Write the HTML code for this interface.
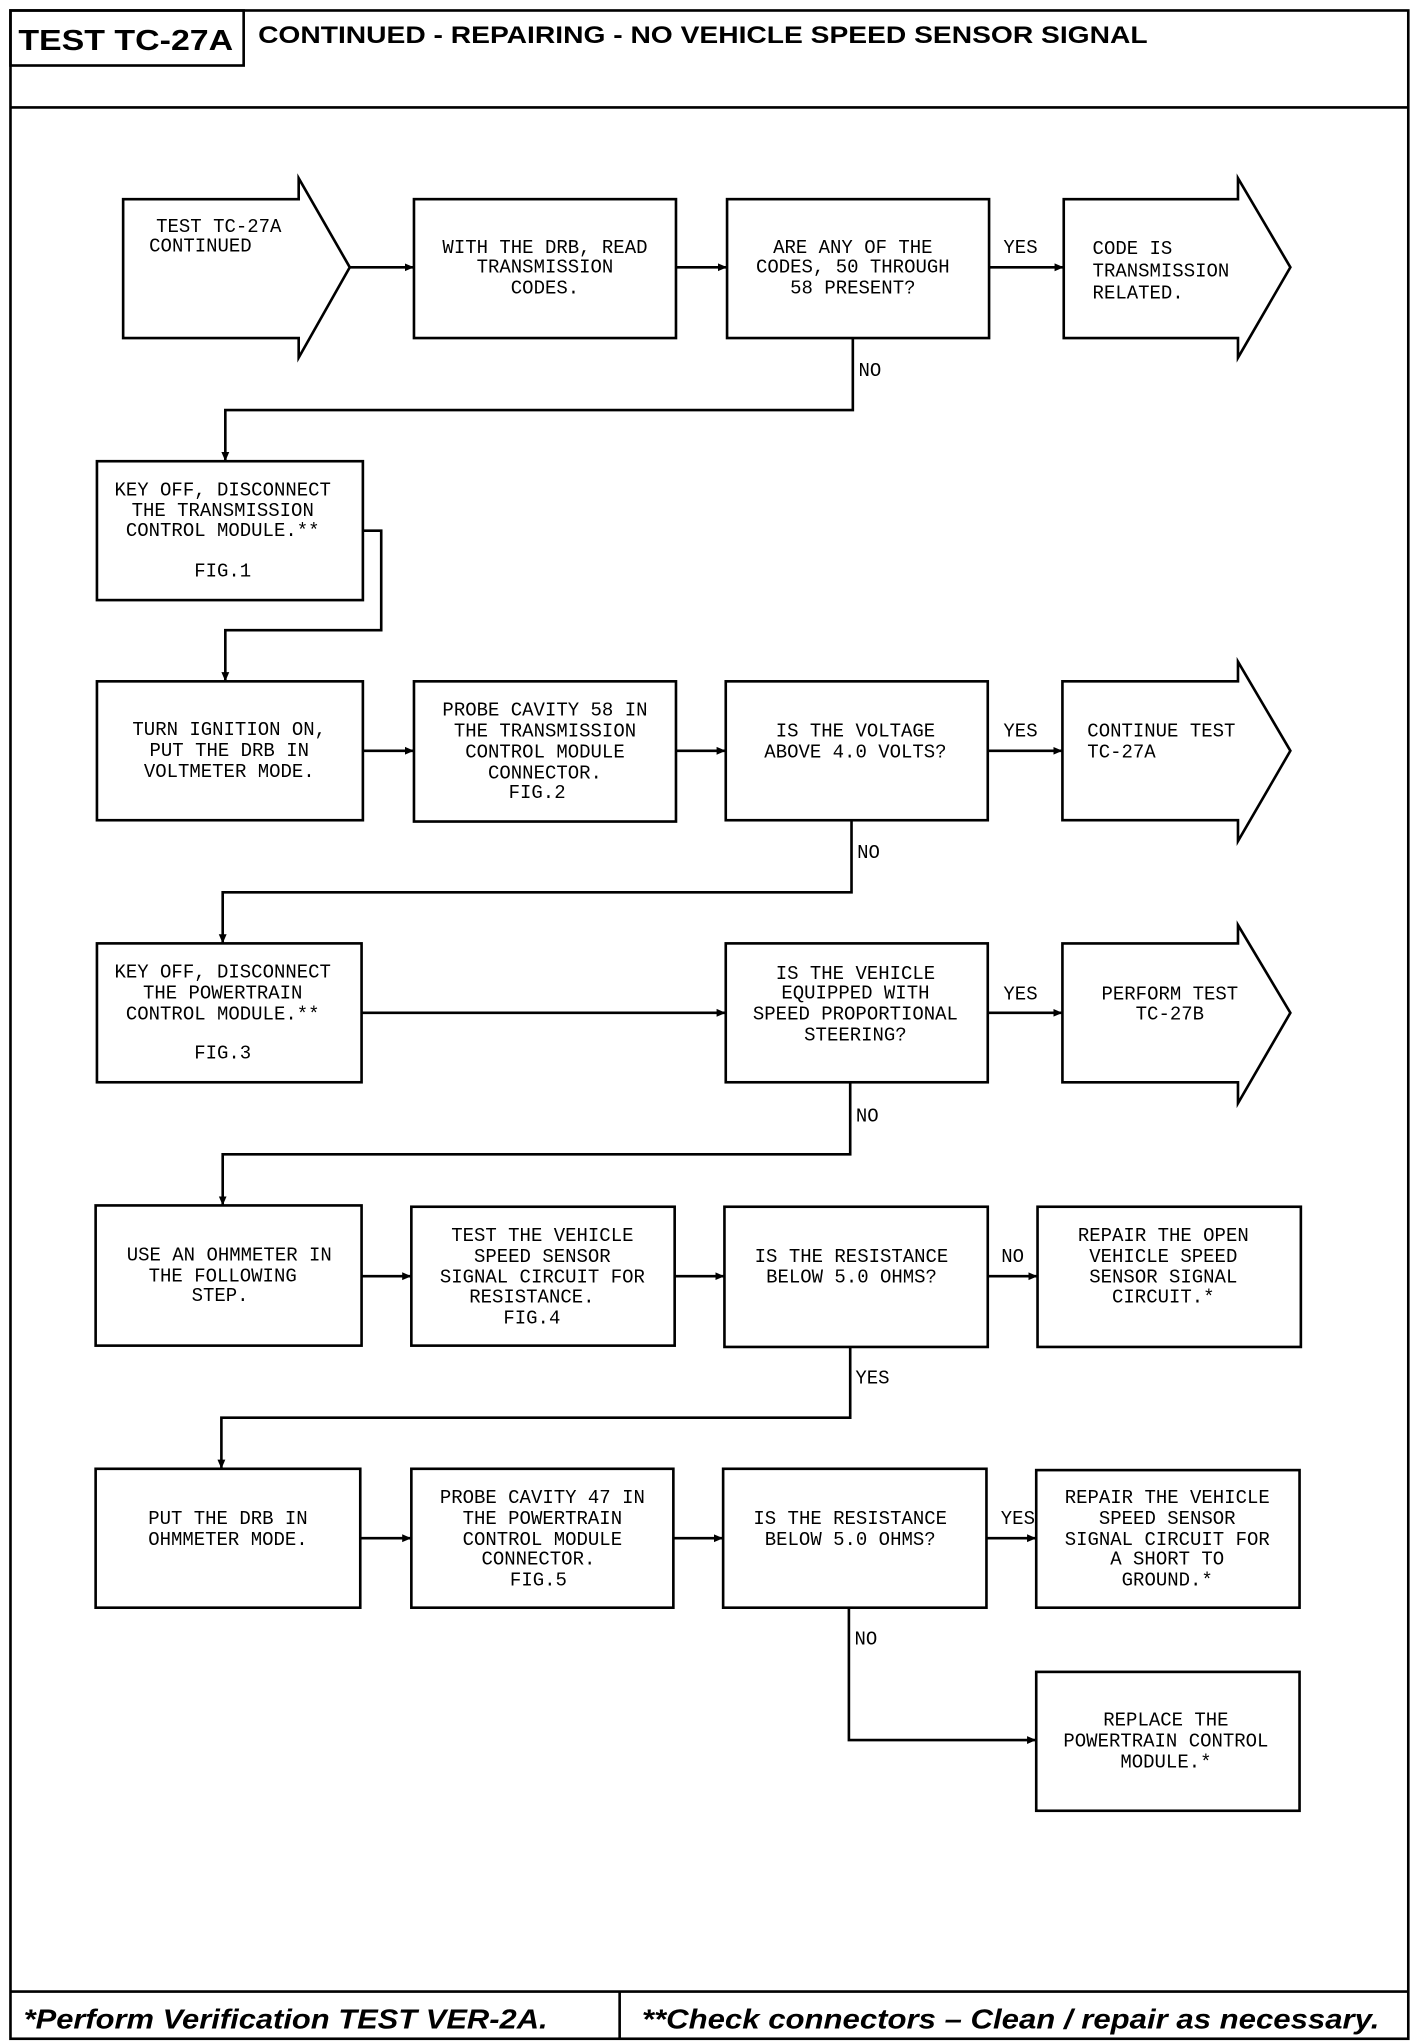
<!DOCTYPE html>
<html><head><meta charset="utf-8"><style>html,body{margin:0;padding:0;background:#fff}svg{display:block}</style></head><body>
<svg width="1424" height="2044" viewBox="0 0 1087 1560" preserveAspectRatio="none" xmlns="http://www.w3.org/2000/svg">
<defs><marker id="a" markerWidth="8" markerHeight="8" refX="7" refY="4" orient="auto" markerUnits="userSpaceOnUse"><path d="M0,1 L7,4 L0,7 z" fill="#000"/></marker></defs>
<g fill="none" stroke="#000" stroke-width="2">
<rect x="8" y="8" width="1067" height="1548"/>
<line x1="8" y1="82" x2="1075" y2="82"/>
<rect x="8" y="8" width="178" height="42"/>
<line x1="8" y1="1520" x2="1075" y2="1520"/>
<line x1="473" y1="1520" x2="473" y2="1556"/>
<!-- row1 -->
<path d="M94,152 H228 V136 L267,204 L228,273 V258 H94 Z"/>
<rect x="316" y="152" width="200" height="106"/>
<rect x="555" y="152" width="200" height="106"/>
<path d="M812,152 H945 V136 L985,204 L945,273 V258 H812 Z"/>
<!-- row2 -->
<rect x="74" y="352" width="203" height="106"/>
<!-- row3 -->
<rect x="74" y="520" width="203" height="106"/>
<rect x="316" y="520" width="200" height="107"/>
<rect x="554" y="520" width="200" height="106"/>
<path d="M811,520 H945 V505 L985,573 L945,642 V626 H811 Z"/>
<!-- row4 -->
<rect x="74" y="720" width="202" height="106"/>
<rect x="554" y="720" width="200" height="106"/>
<path d="M811,720 H945 V706 L985,773 L945,842 V826 H811 Z"/>
<!-- row5 -->
<rect x="73" y="920" width="203" height="107"/>
<rect x="314" y="921" width="201" height="106"/>
<rect x="553" y="921" width="201" height="107"/>
<rect x="792" y="921" width="201" height="107"/>
<!-- row6 -->
<rect x="73" y="1121" width="202" height="106"/>
<rect x="314" y="1121" width="200" height="106"/>
<rect x="552" y="1121" width="201" height="106"/>
<rect x="791" y="1122" width="201" height="105"/>
<rect x="791" y="1276" width="201" height="106"/>
</g>
<g fill="none" stroke="#000" stroke-width="2" marker-end="url(#a)">
<line x1="267" y1="204" x2="316" y2="204"/>
<line x1="516" y1="204" x2="555" y2="204"/>
<line x1="755" y1="204" x2="812" y2="204"/>
<path d="M651,258 V313 H172 V352"/>
<path d="M277,405 H291 V481 H172 V520"/>
<line x1="277" y1="573" x2="316" y2="573"/>
<line x1="516" y1="573" x2="554" y2="573"/>
<line x1="754" y1="573" x2="811" y2="573"/>
<path d="M650,626 V681 H170 V720"/>
<line x1="276" y1="773" x2="554" y2="773"/>
<line x1="754" y1="773" x2="811" y2="773"/>
<path d="M649,826 V881 H170 V920"/>
<line x1="276" y1="974" x2="314" y2="974"/>
<line x1="515" y1="974" x2="553" y2="974"/>
<line x1="754" y1="974" x2="792" y2="974"/>
<path d="M649,1028 V1082 H169 V1121"/>
<line x1="275" y1="1174" x2="314" y2="1174"/>
<line x1="514" y1="1174" x2="552" y2="1174"/>
<line x1="753" y1="1174" x2="791" y2="1174"/>
<path d="M648,1227 V1328 H791"/>
</g>
<g font-family="Liberation Sans, sans-serif" font-weight="bold" fill="#000">
<text x="14" y="38" font-size="22" textLength="164" lengthAdjust="spacingAndGlyphs">TEST TC-27A</text>
<text x="197" y="33" font-size="18" textLength="679" lengthAdjust="spacingAndGlyphs">CONTINUED - REPAIRING - NO VEHICLE SPEED SENSOR SIGNAL</text>
<text x="18" y="1548" font-size="21" font-style="italic" textLength="400" lengthAdjust="spacingAndGlyphs">*Perform Verification TEST VER-2A.</text>
<text x="490" y="1548" font-size="21" font-style="italic" textLength="563" lengthAdjust="spacingAndGlyphs">**Check connectors – Clean / repair as necessary.</text>
</g>
<g font-family="Liberation Mono, monospace" font-size="14.5" fill="#000" text-anchor="middle">
<text x="167" y="177">TEST TC-27A</text><text x="153" y="192">CONTINUED</text>
<text x="416" y="193">WITH THE DRB, READ</text><text x="416" y="208">TRANSMISSION</text><text x="416" y="224">CODES.</text>
<text x="651" y="193">ARE ANY OF THE</text><text x="651" y="208">CODES, 50 THROUGH</text><text x="651" y="224">58 PRESENT?</text>
<text x="779" y="193">YES</text><text x="664" y="287">NO</text>
<g text-anchor="start"><text x="834" y="194">CODE IS</text><text x="834" y="211">TRANSMISSION</text><text x="834" y="228">RELATED.</text></g>
<text x="170" y="378">KEY OFF, DISCONNECT</text><text x="170" y="394">THE TRANSMISSION</text><text x="170" y="409">CONTROL MODULE.**</text><text x="170" y="440">FIG.1</text>
<text x="175" y="561">TURN IGNITION ON,</text><text x="175" y="577">PUT THE DRB IN</text><text x="175" y="593">VOLTMETER MODE.</text>
<text x="416" y="546">PROBE CAVITY 58 IN</text><text x="416" y="562">THE TRANSMISSION</text><text x="416" y="578">CONTROL MODULE</text><text x="416" y="594">CONNECTOR.</text><text x="410" y="609">FIG.2</text>
<text x="653" y="562">IS THE VOLTAGE</text><text x="653" y="578">ABOVE 4.0 VOLTS?</text>
<text x="779" y="562">YES</text><text x="663" y="655">NO</text>
<g text-anchor="start"><text x="830" y="562">CONTINUE TEST</text><text x="830" y="578">TC-27A</text></g>
<text x="170" y="746">KEY OFF, DISCONNECT</text><text x="170" y="762">THE POWERTRAIN</text><text x="170" y="778">CONTROL MODULE.**</text><text x="170" y="808">FIG.3</text>
<text x="653" y="747">IS THE VEHICLE</text><text x="653" y="762">EQUIPPED WITH</text><text x="653" y="778">SPEED PROPORTIONAL</text><text x="653" y="794">STEERING?</text>
<text x="779" y="763">YES</text><text x="662" y="856">NO</text>
<text x="893" y="763">PERFORM TEST</text><text x="893" y="778">TC-27B</text>
<text x="175" y="962">USE AN OHMMETER IN</text><text x="170" y="978">THE FOLLOWING</text><text x="168" y="993">STEP.</text>
<text x="414" y="947">TEST THE VEHICLE</text><text x="414" y="963">SPEED SENSOR</text><text x="414" y="979">SIGNAL CIRCUIT FOR</text><text x="406" y="994">RESISTANCE.</text><text x="406" y="1010">FIG.4</text>
<text x="650" y="963">IS THE RESISTANCE</text><text x="650" y="979">BELOW 5.0 OHMS?</text>
<text x="773" y="963">NO</text><text x="666" y="1056">YES</text>
<text x="888" y="947">REPAIR THE OPEN</text><text x="888" y="963">VEHICLE SPEED</text><text x="888" y="979">SENSOR SIGNAL</text><text x="888" y="994">CIRCUIT.*</text>
<text x="174" y="1163">PUT THE DRB IN</text><text x="174" y="1179">OHMMETER MODE.</text>
<text x="414" y="1147">PROBE CAVITY 47 IN</text><text x="414" y="1163">THE POWERTRAIN</text><text x="414" y="1179">CONTROL MODULE</text><text x="411" y="1194">CONNECTOR.</text><text x="411" y="1210">FIG.5</text>
<text x="649" y="1163">IS THE RESISTANCE</text><text x="649" y="1179">BELOW 5.0 OHMS?</text>
<text x="777" y="1163">YES</text><text x="661" y="1255">NO</text>
<text x="891" y="1147">REPAIR THE VEHICLE</text><text x="891" y="1163">SPEED SENSOR</text><text x="891" y="1179">SIGNAL CIRCUIT FOR</text><text x="891" y="1194">A SHORT TO</text><text x="891" y="1210">GROUND.*</text>
<text x="890" y="1317">REPLACE THE</text><text x="890" y="1333">POWERTRAIN CONTROL</text><text x="890" y="1349">MODULE.*</text>
</g>
</svg>
</body></html>
